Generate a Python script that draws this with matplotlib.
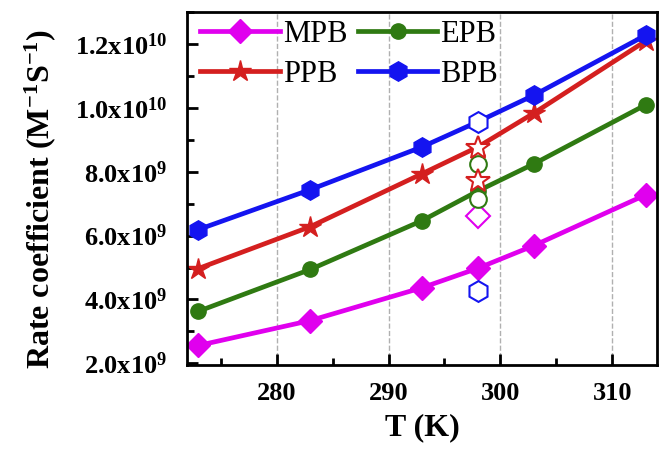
import numpy as np
import matplotlib
matplotlib.use("Agg")
import matplotlib.pyplot as plt
from matplotlib.ticker import MultipleLocator, FixedLocator

plt.rcParams['font.family'] = ['Liberation Serif', 'DejaVu Serif']
plt.rcParams['font.weight'] = 'bold'
plt.rcParams['mathtext.fontset'] = 'custom'
plt.rcParams['mathtext.rm'] = 'Liberation Serif:bold'
plt.rcParams['mathtext.bf'] = 'Liberation Serif:bold'
plt.rcParams['mathtext.it'] = 'Liberation Serif:bold'
plt.rcParams['mathtext.default'] = 'rm'

# Temperatures (K)
temps = [273, 283, 293, 298, 303, 313]

# Rate coefficients (M^-1 s^-1)
mpb = [2.56e9, 3.34e9, 4.37e9, 4.98e9, 5.69e9, 7.28e9]
epb = [3.63e9, 4.94e9, 6.47e9, 7.40e9, 8.25e9, 1.01e10]
ppb = [4.97e9, 6.28e9, 7.94e9, 8.78e9, 9.84e9, 1.21e10]
bpb = [6.19e9, 7.44e9, 8.78e9, 9.57e9, 1.04e10, 1.228e10]

# Open symbols at 298 K (other reported values)
open_t = 298
mpb_open = [6.63e9]
epb_open = [8.24e9, 7.15e9]
ppb_open = [8.76e9, 7.72e9]
bpb_open = [9.57e9, 4.28e9]

yticks = [2e9, 4e9, 6e9, 8e9, 1e10, 1.2e10]
ytick_labels = ["2.0x10$^{9}$", "4.0x10$^{9}$", "6.0x10$^{9}$",
                "8.0x10$^{9}$", "1.0x10$^{10}$", "1.2x10$^{10}$"]

c_mpb = '#e000ee'
c_epb = '#2f7a12'
c_ppb = '#d41f1f'
c_bpb = '#1414f0'

fig = plt.figure(figsize=(6.59, 4.5), dpi=100)
ax = fig.add_axes([0.284, 0.189, 0.713, 0.784])

lw = 3.4
h_mpb, = ax.plot(temps, mpb, '-D', color=c_mpb, lw=lw, ms=12, label='MPB')
h_epb, = ax.plot(temps, epb, '-o', color=c_epb, lw=lw, ms=11, label='EPB')
h_ppb, = ax.plot(temps, ppb, '-*', color=c_ppb, lw=lw, ms=16, label='PPB')
h_bpb, = ax.plot(temps, bpb, '-h', color=c_bpb, lw=lw, ms=14, label='BPB')

ax.plot([open_t] * len(mpb_open), mpb_open, 'D', mfc='white', mec=c_mpb, mew=1.5, ms=12)
ax.plot([open_t] * len(epb_open), epb_open, 'o', mfc='white', mec=c_epb, mew=1.5, ms=12)
ax.plot([open_t] * len(ppb_open), ppb_open, '*', mfc='white', mec=c_ppb, mew=1.5, ms=18)
ax.plot([open_t] * len(bpb_open), bpb_open, 'h', mfc='white', mec=c_bpb, mew=1.5, ms=15)

ax.set_xlim(272, 314)
ax.set_ylim(1.95e9, 1.3e10)
ax.xaxis.set_major_locator(MultipleLocator(10))
ax.xaxis.set_minor_locator(MultipleLocator(5))
ax.yaxis.set_major_locator(FixedLocator(yticks))
ax.yaxis.set_minor_locator(MultipleLocator(1e9))
ax.set_yticklabels(ytick_labels)

ax.grid(axis='x', which='major', linestyle='--', color='#b0b0b0', lw=1)
ax.tick_params(axis='both', which='major', direction='in', length=8, width=2,
               labelsize=19)
ax.tick_params(axis='y', which='major', pad=14)
ax.tick_params(axis='x', which='major', pad=12)
ax.tick_params(axis='both', which='minor', direction='in', length=5, width=2)
for lab in ax.get_xticklabels() + ax.get_yticklabels():
    lab.set_fontweight('bold')
for sp in ax.spines.values():
    sp.set_linewidth(2)

ax.set_xlabel('T (K)', fontsize=23, fontweight='bold', labelpad=6)
ax.set_ylabel('Rate coefficient (M$^{-1}$S$^{-1}$)', fontsize=23,
              fontweight='bold')
ax.yaxis.set_label_coords(-0.275, 0.47)

ax.legend([h_mpb, h_ppb, h_epb, h_bpb], ['MPB', 'PPB', 'EPB', 'BPB'],
          ncol=2, loc='upper left', bbox_to_anchor=(0.015, 0.995),
          frameon=False,
          handlelength=2.6, columnspacing=0.35, handletextpad=0.1,
          labelspacing=0.35, borderaxespad=0.0, borderpad=0.2,
          prop={'family': 'Liberation Serif', 'weight': 'normal', 'size': 22})

fig.savefig('out.png', dpi=100)
